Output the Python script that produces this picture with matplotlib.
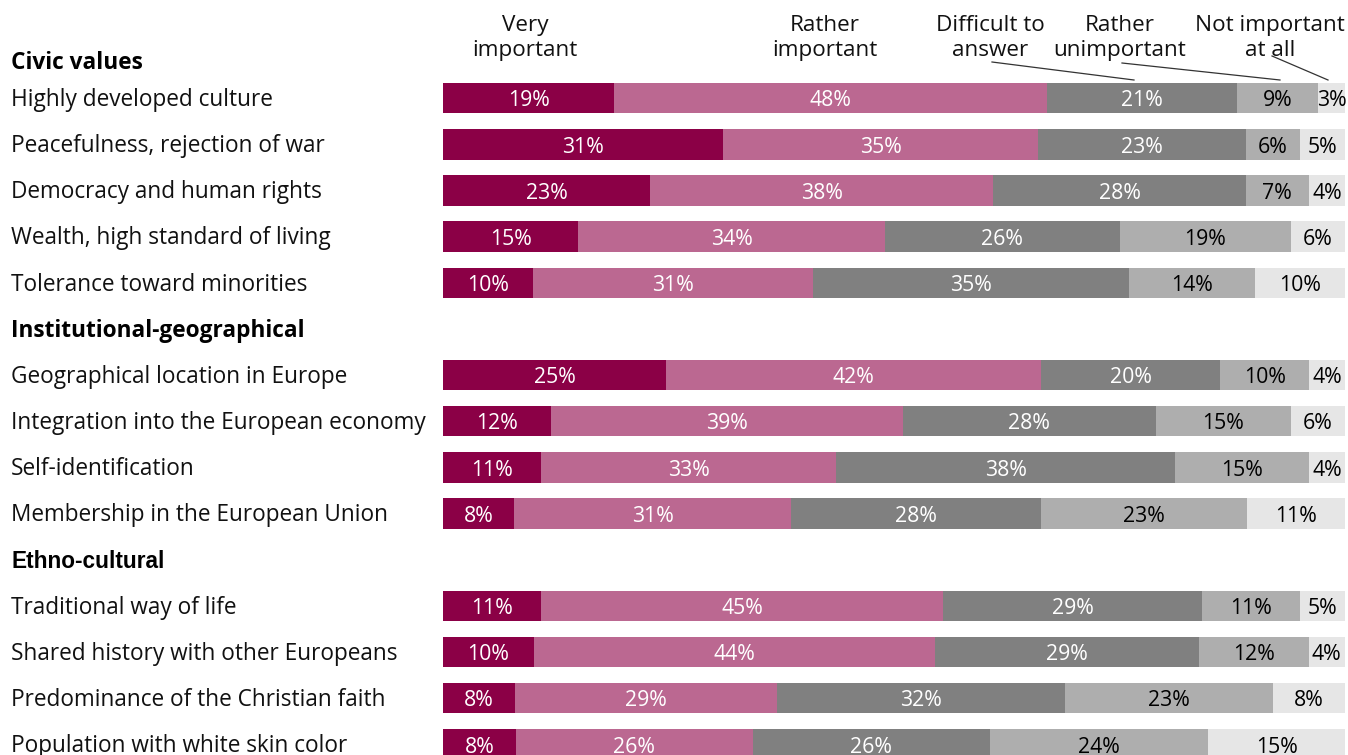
import matplotlib
matplotlib.use("Agg")
import matplotlib.pyplot as plt
from matplotlib.lines import Line2D

plt.rcParams['font.family'] = ['Open Sans', 'DejaVu Sans']

# Answer categories and bar colours
categorias = ["Very\nimportant", "Rather\nimportant", "Difficult to\nanswer",
              "Rather\nunimportant", "Not important\nat all"]
cores = ["#8B0046", "#BB6891", "#808080", "#AEAEAE", "#E6E6E6"]
coresTexto = ["white", "white", "white", "black", "black"]

# Groups and items
grupos = ["Civic values", "Institutional-geographical", "Ethno-cultural"]
itensCivic = ["Highly developed culture", "Peacefulness, rejection of war",
              "Democracy and human rights", "Wealth, high standard of living",
              "Tolerance toward minorities"]
itensInst = ["Geographical location in Europe", "Integration into the European economy",
             "Self-identification", "Membership in the European Union"]
itensEtno = ["Traditional way of life", "Shared history with other Europeans",
             "Predominance of the Christian faith", "Population with white skin color"]

# Percentages per item (same order as categorias)
valCivic = [[19, 48, 21, 9, 3],
            [31, 35, 23, 6, 5],
            [23, 38, 28, 7, 4],
            [15, 34, 26, 19, 6],
            [10, 31, 35, 14, 10]]
valInst = [[25, 42, 20, 10, 4],
           [12, 39, 28, 15, 6],
           [11, 33, 38, 15, 4],
           [8, 31, 28, 23, 11]]
valEtno = [[11, 45, 29, 11, 5],
           [10, 44, 29, 12, 4],
           [8, 29, 32, 23, 8],
           [8, 26, 26, 24, 15]]

W, H = 1348, 755
passo = 46.15   # slot height in px
fig = plt.figure(figsize=(W / 100, H / 100), dpi=100)
ax = fig.add_axes([443 / W, 0, 902 / W, 1])
ax.set_xlim(0, 100)
# slot 0 centred at 52 px from the top
ax.set_ylim((H - 52) / passo, -52 / passo)
ax.axis('off')

def figx(px):
    return px / W

def figy(py):
    return 1 - py / H

xRotulo = -432 / 902 * 100
slot = 0
blocos = [(grupos[0], itensCivic, valCivic), (grupos[1], itensInst, valInst),
          (grupos[2], itensEtno, valEtno)]
for g, (grupo, itens, valores) in enumerate(blocos):
    fonte = 'Liberation Sans' if g == 2 else 'Open Sans'
    yg = slot + (0.24 if g == 0 else 0.04)
    ax.text(xRotulo, yg, grupo, fontsize=16.3,
            fontweight='bold', family=fonte, va='center', ha='left', clip_on=False)
    slot += 1
    for item, vals in zip(itens, valores):
        ax.text(xRotulo, slot + 0.04, item, fontsize=16.3, va='center',
                ha='left', color='#111111', clip_on=False)
        # each row is scaled to fill the full width
        total = sum(vals)
        esq = 0
        for v, c, ct in zip(vals, cores, coresTexto):
            larg = v / total * 100
            ax.barh(slot, larg, left=esq, height=0.66, color=c, edgecolor='none')
            ax.text(esq + larg / 2, slot + 0.06, f"{v}%", color=ct, fontsize=15.3,
                    ha='center', va='center')
            esq += larg
        slot += 1

# Category headers
posCab = [525, 825, 990, 1120, 1270]
for cat, px in zip(categorias, posCab):
    fig.text(figx(px), figy(38), cat, fontsize=16.2, ha='center', va='center',
             linespacing=1.3, color='#111111')

# Leader lines for the narrow segments
linhas = [((992, 62), (1134, 80)), ((1122, 63), (1280, 80)), ((1272, 56), (1328, 80))]
for (x0, y0), (x1, y1) in linhas:
    fig.add_artist(Line2D([figx(x0), figx(x1)], [figy(y0), figy(y1)],
                          color='#333333', linewidth=0.9))

fig.savefig("out.png", dpi=100)
